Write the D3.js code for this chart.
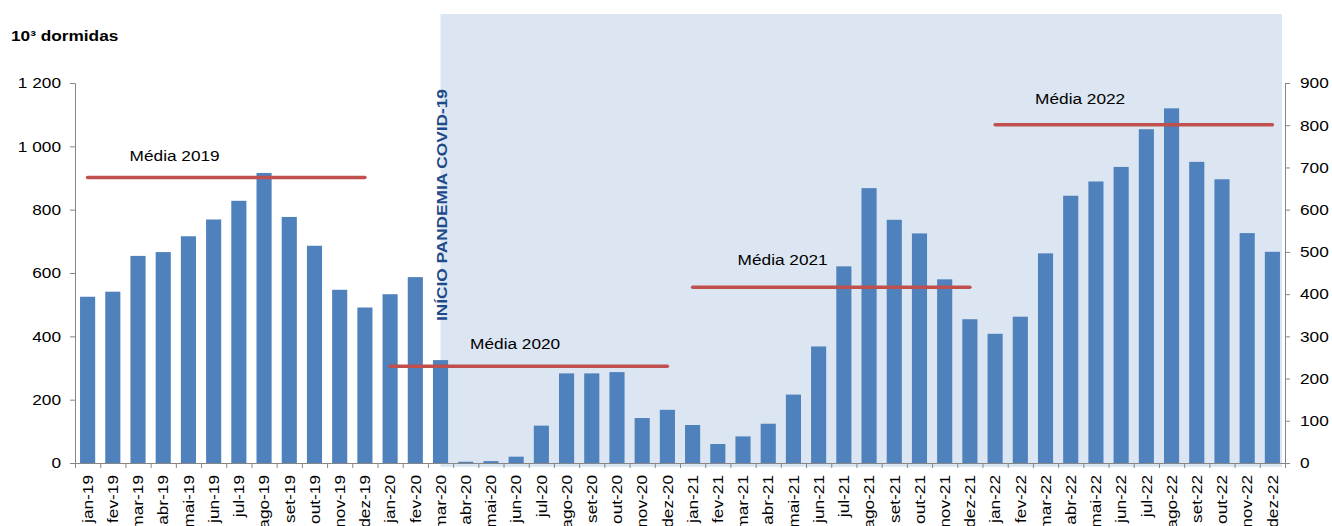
<!DOCTYPE html>
<html>
<head>
<meta charset="utf-8">
<script src="https://cdn.jsdelivr.net/npm/d3@7"></script>
<style>
  body { margin: 0; background: #fff; }
  svg { display: block; font-family: "Liberation Sans", Arial, sans-serif; }
</style>
</head>
<body>
<div id="chart"></div>
<script>
"use strict";

// months jan-19 .. dez-22
const months = ["jan-19","fev-19","mar-19","abr-19","mai-19","jun-19","jul-19","ago-19","set-19","out-19","nov-19","dez-19",
  "jan-20","fev-20","mar-20","abr-20","mai-20","jun-20","jul-20","ago-20","set-20","out-20","nov-20","dez-20",
  "jan-21","fev-21","mar-21","abr-21","mai-21","jun-21","jul-21","ago-21","set-21","out-21","nov-21","dez-21",
  "jan-22","fev-22","mar-22","abr-22","mai-22","jun-22","jul-22","ago-22","set-22","out-22","nov-22","dez-22"];

// dormidas (milhares), eixo esquerdo
const dormidas = [525, 541, 654, 666, 716, 769, 828, 916, 777, 686, 547, 491,
  533, 587, 325, 4, 6, 20, 118, 283, 283, 287, 142, 168,
  120, 60, 84, 124, 216, 368, 621, 868, 768, 725, 580, 454,
  408, 462, 662, 844, 889, 935, 1054, 1120, 951, 896, 726, 667];

// médias anuais (desenhadas no eixo direito, como no original)
const anos = ["2019", "2020", "2021", "2022"];
const medias = [676, 229, 416, 801];

const leftTicks = [0, 200, 400, 600, 800, 1000, 1200];
const rightTicks = [0, 100, 200, 300, 400, 500, 600, 700, 800, 900];

const width = 1332, height = 526;
const plotLeft = 75, plotRight = 1285, plotTop = 83, base = 463;
const sx = 1.15; // glyphs in the picture are a bit wider than Arial
const font = 15;
const axisColor = "#868686";

const svg = d3.select("#chart").append("svg")
    .attr("width", width)
    .attr("height", height);

const x = d3.scaleBand()
    .domain(months)
    .range([plotLeft, plotRight])
    .paddingInner(0.4)
    .paddingOuter(0.2);

const xEdge = d3.scaleLinear().domain([0, months.length]).range([plotLeft, plotRight]);
const yL = d3.scaleLinear().domain([0, 1200]).range([base, plotTop]);
const yR = d3.scaleLinear().domain([0, 900]).range([base, plotTop]);

const fmt = d3.formatLocale({ decimal: ",", thousands: " ", grouping: [3], currency: ["", ""] }).format(",");

// shaded pandemic period
const shadeX0 = x("mar-20") + x.bandwidth() / 2;
svg.append("rect")
    .attr("x", shadeX0)
    .attr("y", 14)
    .attr("width", plotRight - 3 - shadeX0)
    .attr("height", base + 4 - 14)
    .attr("fill", "#DCE6F2");

// bars
svg.append("g").selectAll("rect")
    .data(months)
  .enter().append("rect")
    .attr("x", d => x(d))
    .attr("y", (d, i) => yL(dormidas[i]))
    .attr("width", x.bandwidth())
    .attr("height", (d, i) => base - yL(dormidas[i]))
    .attr("fill", "#4F81BD");

// axes
let gx = svg.append("g")
    .attr("transform", `translate(0,${base})`)
    .call(d3.axisBottom(xEdge).tickValues(d3.range(months.length + 1)).tickFormat("").tickSize(5).tickSizeOuter(0));

let gl = svg.append("g")
    .attr("transform", `translate(${plotLeft},0)`)
    .call(d3.axisLeft(yL).tickValues(leftTicks).tickFormat(fmt).tickSize(5).tickSizeOuter(0));

let gr = svg.append("g")
    .attr("transform", `translate(${plotRight},0)`)
    .call(d3.axisRight(yR).tickValues(rightTicks).tickSize(5).tickSizeOuter(0));

[gx, gl, gr].forEach(g => {
  g.select(".domain").attr("stroke", axisColor);
  g.selectAll(".tick line").attr("stroke", axisColor);
  g.selectAll("text")
      .attr("font-size", font)
      .attr("font-family", "'Liberation Sans', Arial, sans-serif")
      .attr("fill", "#000");
});

gl.selectAll(".tick text")
    .attr("x", 0)
    .attr("transform", `translate(-14,0) scale(${sx},1)`);
gr.selectAll(".tick text")
    .attr("x", 0)
    .attr("transform", `translate(15,0) scale(${sx},1)`);

// month labels, rotated
svg.append("g").selectAll("text")
    .data(months)
  .enter().append("text")
    .attr("transform", d => `translate(${x(d) + x.bandwidth() / 2},475) rotate(-90) scale(${sx},1)`)
    .attr("text-anchor", "end")
    .attr("dy", "0.35em")
    .attr("font-size", font)
    .text(d => d);

// yearly means
const lineOffsets = [[42, -17], [80, -17], [45, -22], [40, -21]];
anos.forEach((ano, i) => {
  let x1 = x(months[i * 12]) + x.bandwidth() / 2;
  let x2 = x(months[i * 12 + 11]) + x.bandwidth() / 2;
  let yy = yR(medias[i]);
  svg.append("line")
      .attr("x1", x1).attr("x2", x2)
      .attr("y1", yy).attr("y2", yy)
      .attr("stroke", "#C0504D")
      .attr("stroke-width", 3.5)
      .attr("stroke-linecap", "round");
  svg.append("text")
      .attr("transform", `translate(${x1 + lineOffsets[i][0]},${yy + lineOffsets[i][1]}) scale(${sx},1)`)
      .attr("font-size", font)
      .text("Média " + ano);
});

// pandemic label
svg.append("text")
    .attr("transform", `translate(447,321) rotate(-90) scale(${sx},1)`)
    .attr("font-size", font)
    .attr("font-weight", "bold")
    .attr("fill", "#1F4A8A")
    .text("INÍCIO PANDEMIA COVID-19");

// unit title
svg.append("text")
    .attr("transform", `translate(11,41) scale(${sx},1)`)
    .attr("font-size", font)
    .attr("font-weight", "bold")
    .text("10³ dormidas");
</script>
</body>
</html>
